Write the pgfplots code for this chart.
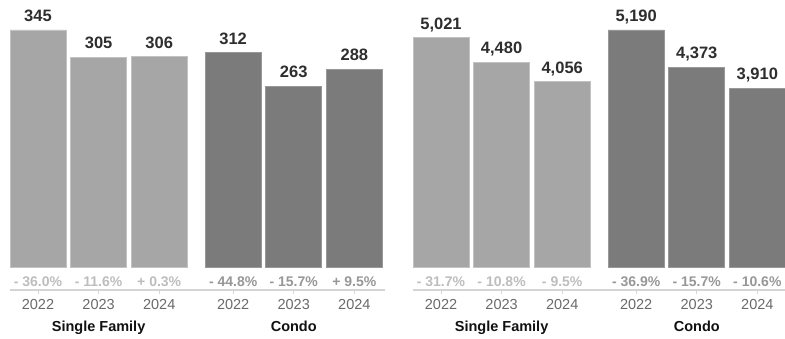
\documentclass[border=0pt]{standalone}
\usepackage{pgfplots}
\pgfplotsset{compat=1.18}
\usepackage{pgfplotstable}
\usepackage{fontspec}
\setmainfont{Liberation Sans}

\definecolor{sfbar}{HTML}{A6A6A6}
\definecolor{sfedge}{HTML}{C2C2C2}
\definecolor{cdbar}{HTML}{7B7B7B}
\definecolor{cdedge}{HTML}{989898}
\definecolor{valcol}{HTML}{2E2E2E}
\definecolor{sfpct}{HTML}{BDBDBD}
\definecolor{cdpct}{HTML}{979797}
\definecolor{yearcol}{HTML}{6A6A6A}
\definecolor{groupcol}{HTML}{111111}
\definecolor{axisline}{HTML}{D4D4D4}

\newcommand{\valfont}{\fontsize{16.5}{18}\selectfont\bfseries}
\newcommand{\pctfont}{\fontsize{14}{16}\selectfont\bfseries}
\newcommand{\yearfont}{\fontsize{14.5}{16}\selectfont}
\newcommand{\groupfont}{\fontsize{14.5}{16}\selectfont\bfseries}

% Left panel
\pgfplotstableread[col sep=semicolon, row sep=\\]{
x;y;v;p;yr\\
0;345;345;- 36.0\%;2022\\
1;305;305;- 11.6\%;2023\\
2;306;306;+ 0.3\%;2024\\
}\LSF
\pgfplotstableread[col sep=semicolon, row sep=\\]{
x;y;v;p;yr\\
3.22;312;312;- 44.8\%;2022\\
4.22;263;263;- 15.7\%;2023\\
5.22;288;288;+ 9.5\%;2024\\
}\LCD
% Right panel
\pgfplotstableread[col sep=semicolon, row sep=\\]{
x;y;v;p;yr\\
0;5021;5,021;- 31.7\%;2022\\
1;4480;4,480;- 10.8\%;2023\\
2;4056;4,056;- 9.5\%;2024\\
}\RSF
\pgfplotstableread[col sep=semicolon, row sep=\\]{
x;y;v;p;yr\\
3.22;5190;5,190;- 36.9\%;2022\\
4.22;4373;4,373;- 15.7\%;2023\\
5.22;3910;3,910;- 10.6\%;2024\\
}\RCD
\pgfplotstableread[col sep=semicolon, row sep=\\]{
x;g\\
1;Single Family\\
4.22;Condo\\
}\GRP

\pgfplotsset{
  panel/.style={
    scale only axis, clip=false,
    height=260pt,
    xmin=-0.462,
    axis x line=bottom, axis y line=none,
    axis line style={-, draw=axisline, line width=1.3pt},
    xtick={0,1,2,3.22,4.22,5.22}, xticklabels={},
    tick align=outside, major tick length=4pt,
    xtick style={draw=axisline, line width=0.8pt},
  },
  barsf/.style={ybar, bar shift=0pt, bar width=0.924, fill=sfbar, draw=sfedge, line width=0.8pt,
    nodes near coords, point meta=explicit symbolic,
    nodes near coords style={anchor=base, yshift=8.5pt, inner sep=0pt, font=\valfont, text=valcol}},
  barcd/.style={ybar, bar shift=0pt, bar width=0.924, fill=cdbar, draw=cdedge, line width=0.8pt,
    nodes near coords, point meta=explicit symbolic,
    nodes near coords style={anchor=base, yshift=8.5pt, inner sep=0pt, font=\valfont, text=valcol}},
  pctlab/.style={draw=none, nodes near coords, point meta=explicit symbolic,
    nodes near coords style={anchor=base, yshift=-19.5pt, inner sep=0pt, font=\pctfont, text=#1}},
  yearlab/.style={draw=none, nodes near coords, point meta=explicit symbolic,
    nodes near coords style={anchor=base, yshift=-43pt, inner sep=0pt, font=\yearfont, text=yearcol}},
  grplab/.style={draw=none, nodes near coords, point meta=explicit symbolic,
    nodes near coords style={anchor=base, yshift=-65pt, inner sep=0pt, font=\groupfont, text=groupcol}},
}

\begin{document}
\begin{tikzpicture}
\useasboundingbox (0,0) rectangle (785pt,339pt);
\begin{axis}[panel, at={(10pt,49pt)}, anchor=south west,
  width=375pt, xmax=5.726, ymin=-33.48, ymax=345]
  \addplot[barsf] table[x=x, y=y, meta=v] {\LSF};
  \addplot[barcd] table[x=x, y=y, meta=v] {\LCD};
  \addplot[pctlab=sfpct] table[x=x, y expr=0, meta=p] {\LSF};
  \addplot[pctlab=cdpct] table[x=x, y expr=0, meta=p] {\LCD};
  \addplot[yearlab] table[x=x, y expr=0, meta=yr] {\LSF};
  \addplot[yearlab] table[x=x, y expr=0, meta=yr] {\LCD};
  \addplot[grplab] table[x=x, y expr=0, meta=g] {\GRP};
\end{axis}
\begin{axis}[panel, at={(413pt,49pt)}, anchor=south west,
  width=372pt, xmax=5.676, ymin=-503.7, ymax=5190]
  \addplot[barsf] table[x=x, y=y, meta=v] {\RSF};
  \addplot[barcd] table[x=x, y=y, meta=v] {\RCD};
  \addplot[pctlab=sfpct] table[x=x, y expr=0, meta=p] {\RSF};
  \addplot[pctlab=cdpct] table[x=x, y expr=0, meta=p] {\RCD};
  \addplot[yearlab] table[x=x, y expr=0, meta=yr] {\RSF};
  \addplot[yearlab] table[x=x, y expr=0, meta=yr] {\RCD};
  \addplot[grplab] table[x=x, y expr=0, meta=g] {\GRP};
\end{axis}
\end{tikzpicture}
\end{document}
